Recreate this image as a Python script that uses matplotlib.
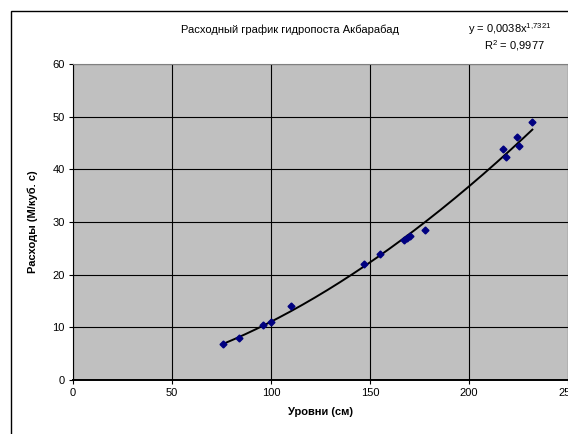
#!/usr/bin/env python3
"""Rating curve of the Akbarabad gauging station."""

import matplotlib

matplotlib.use("Agg")
import matplotlib.pyplot as plt
import numpy as np
from matplotlib.patches import Rectangle

LEVELS = [76, 84, 96, 100, 110, 147, 155, 167, 168.5, 170, 178, 217, 218.5, 224, 225, 232]
FLOWS = [6.8, 8.0, 10.5, 11.0, 14.0, 22.0, 24.0, 26.6, 26.9, 27.3, 28.5, 43.9, 42.3, 46.2, 44.4, 49.0]

FIT_A = 0.0038
FIT_B = 1.7321
X_TICKS = [0, 50, 100, 150, 200, 250]
Y_TICKS = [0, 10, 20, 30, 40, 50, 60]

plt.rcParams["font.family"] = ["Liberation Sans", "DejaVu Sans"]
plt.rcParams["mathtext.fontset"] = "custom"
plt.rcParams["mathtext.rm"] = "Liberation Sans"
plt.rcParams["mathtext.it"] = "Liberation Sans"

fig = plt.figure(figsize=(5.68, 4.34), dpi=100)
fig.patches.append(Rectangle((11 / 568, -0.1), 1.2, 1 - 11 / 434 + 0.1,
                             transform=fig.transFigure, fill=False,
                             edgecolor="black", linewidth=1.0))

ax = fig.add_axes([73 / 568, 54 / 434, 495 / 568, 316 / 434])
ax.set_facecolor("#c0c0c0")
ax.set_xlim(0, 250)
ax.set_ylim(0, 60)
ax.set_xticks(X_TICKS)
ax.set_yticks(Y_TICKS)
ax.grid(True, color="black", linewidth=0.8)
ax.set_axisbelow(True)
ax.tick_params(direction="out", length=3, width=0.8, labelsize=8, pad=3)
for side in ("top", "right"):
    ax.spines[side].set_color("#808080")
ax.spines["left"].set_color("black")
ax.spines["bottom"].set_color("black")
ax.spines["bottom"].set_linewidth(1.4)

fit_x = np.linspace(min(LEVELS), max(LEVELS), 200)
ax.plot(fit_x, FIT_A * fit_x ** FIT_B, color="black", linewidth=1.4, zorder=3)
ax.plot(LEVELS, FLOWS, linestyle="none", marker="D", markersize=3.5,
        color="#000080", zorder=4)

ax.set_xlabel("Уровни (см)", fontsize=8, fontweight="bold", labelpad=6)
ax.set_ylabel("Расходы (М/куб. с)", fontsize=8, fontweight="bold", labelpad=10)

fig.text(290 / 568, 1 - 30 / 434, "Расходный график гидропоста Акбарабад",
         ha="center", va="center", fontsize=8)
fig.text(510 / 568, 1 - 29 / 434, r"y = 0,0038x$^{\mathrm{1{,}7321}}$",
         ha="center", va="center", fontsize=8)
fig.text(514 / 568, 1 - 46 / 434, r"R$^{\mathrm{2}}$ = 0,9977",
         ha="center", va="center", fontsize=8)

fig.savefig("out.png", dpi=100)
